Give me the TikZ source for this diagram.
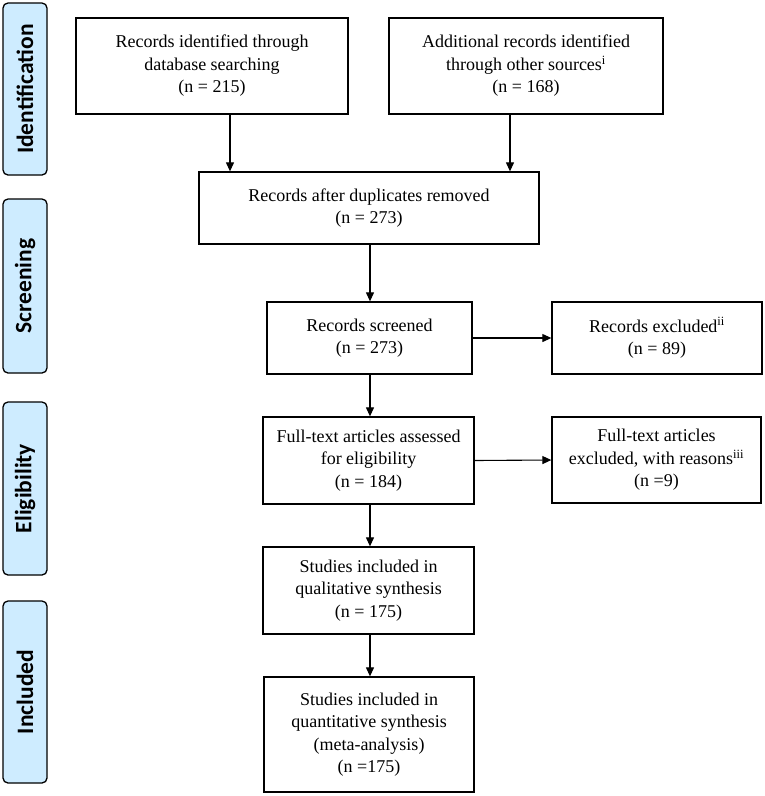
\documentclass[tikz,border=0pt]{standalone}
\usepackage{fontspec}
\setmainfont{Liberation Serif}
\newfontfamily\sidefont{Carlito}
\usetikzlibrary{arrows.meta}
\definecolor{sideblue}{RGB}{206,236,255}
\tikzset{
  flowbox/.style={draw, line width=1.3pt, inner sep=0pt, align=center,
    font=\fontsize{18}{22.5}\selectfont},
  sidebox/.style={draw, line width=1.3pt, fill=sideblue, rounded corners=5pt,
    rotate=90, inner sep=0pt, minimum height=44pt,
    font=\sidefont\bfseries\fontsize{23.5}{27}\selectfont},
  arr/.style={line width=1.1pt, -{Triangle[length=9pt,width=8pt]}}
}
\begin{document}
\begin{tikzpicture}[x=1pt,y=-1pt]
\useasboundingbox (0,0) rectangle (765,796);
% side labels
\node[sidebox, minimum width=172pt] (sid) at (25,89) {Identification};
\node[sidebox, minimum width=174pt] (sscr) at (25,286) {Screening};
\node[sidebox, minimum width=173pt] (selig) at (25,488.5) {Eligibility};
\node[sidebox, minimum width=182pt] (sinc) at (25,692) {Included};
% boxes
\node[flowbox, minimum width=272pt, minimum height=96pt] (b1) at (212,66)
  {Records identified through\\database searching\\(n = 215)};
\node[flowbox, minimum width=274pt, minimum height=96pt] (b2) at (526,66)
  {Additional records identified\\through other sources\textsuperscript{i}\\(n = 168)};
\node[flowbox, minimum width=340pt, minimum height=72pt] (b3) at (369,208)
  {Records after duplicates removed\\(n = 273)};
\node[flowbox, minimum width=205pt, minimum height=72pt] (b4) at (369.5,338)
  {Records screened\\(n = 273)};
\node[flowbox, minimum width=210pt, minimum height=72pt] (b5) at (657,338)
  {Records excluded\textsuperscript{ii}\\(n = 89)};
\node[flowbox, minimum width=211pt, minimum height=87pt] (b6) at (368.5,460.5)
  {Full-text articles assessed\\for eligibility\\(n = 184)};
\node[flowbox, minimum width=209pt, minimum height=86pt] (b7) at (656.5,460)
  {Full-text articles\\excluded, with reasons\textsuperscript{iii}\\(n =9)};
\node[flowbox, minimum width=211pt, minimum height=87pt] (b8) at (368.5,590.5)
  {Studies included in\\qualitative synthesis\\(n = 175)};
\node[flowbox, minimum width=210pt, minimum height=115pt] (b9) at (369,734.5)
  {Studies included in\\quantitative synthesis\\(meta-analysis)\\(n =175)};
% connector columns
\coordinate (cL) at (230,0);
\coordinate (cR) at (510,0);
\coordinate (cM) at (370,0);
\draw[arr] (b1.south -| cL) -- (b3.north -| cL);
\draw[arr] (b2.south -| cR) -- (b3.north -| cR);
\draw[arr] (b3.south -| cM) -- (b4.north -| cM);
\draw[arr] (b4.east) -- (b5.west);
\draw[arr] (b4.south -| cM) -- (b6.north -| cM);
\draw[arr] (b6.east) -- (b7.west);
\draw[arr] (b6.south -| cM) -- (b8.north -| cM);
\draw[arr] (b8.south -| cM) -- (b9.north -| cM);
\end{tikzpicture}
\end{document}
